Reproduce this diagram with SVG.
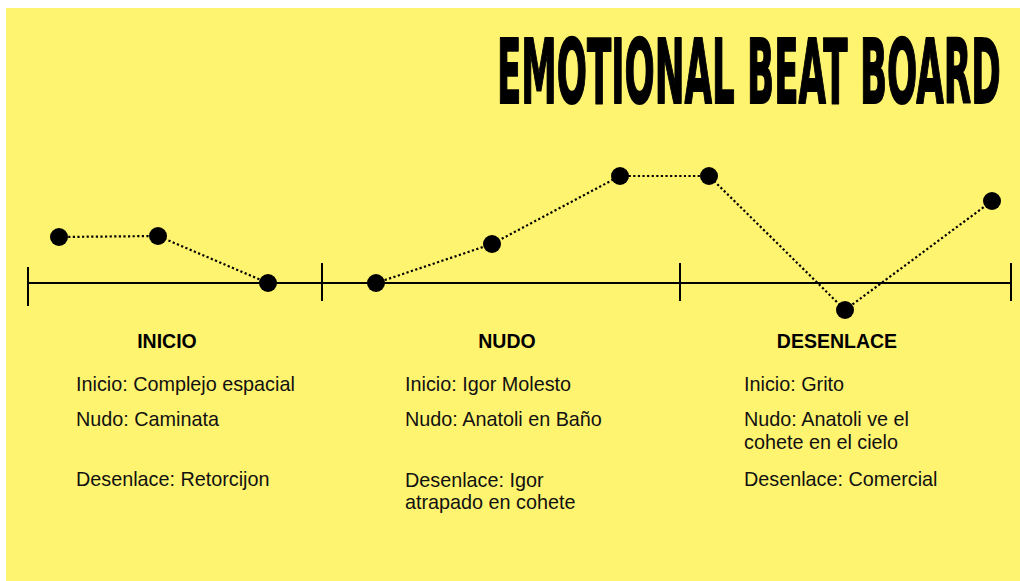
<svg xmlns="http://www.w3.org/2000/svg" width="1020" height="581" viewBox="0 0 1020 581">
<style>
.bg{fill:#FFF470}
.title{font-family:"DejaVu Sans","Liberation Sans",sans-serif;font-weight:bold;font-size:89px;fill:#000;stroke:#000;stroke-width:2px;stroke-linejoin:round}
.head{font-family:"Liberation Sans",Arial,sans-serif;font-weight:bold;font-size:19.5px;fill:#000;text-anchor:middle}
.body{font-family:"Liberation Sans",Arial,sans-serif;font-size:19.8px;fill:#111}
.axis{stroke:#000;stroke-width:2;fill:none}
.beat{stroke:#000;stroke-width:2.2;stroke-dasharray:2.2 2.4;fill:none}
.dot{fill:#000}
</style>
<rect class="bg" x="6" y="8" width="1014" height="573"/>
<g id="title">
<text class="title" transform="translate(497,103) scale(0.397,1)" x="0" y="0" textLength="1269" lengthAdjust="spacingAndGlyphs">EMOTIONAL BEAT BOARD</text>
</g>
<g id="axis">
<line class="axis" x1="28" y1="283" x2="1011" y2="283"/>
<line class="axis" x1="28" y1="267" x2="28" y2="306"/>
<line class="axis" x1="322" y1="263" x2="322" y2="301"/>
<line class="axis" x1="680" y1="263" x2="680" y2="301"/>
<line class="axis" x1="1011" y1="263" x2="1011" y2="301"/>
</g>
<g id="connectors">
<polyline class="beat" points="59,237 158,236 268,283 376,283 492,244 620,176 709,176 845,310 992,201"/>
</g>
<g id="beats">
<circle class="dot" id="b1" cx="59" cy="237" r="9"/>
<circle class="dot" id="b2" cx="158" cy="236" r="9"/>
<circle class="dot" id="b3" cx="268" cy="283" r="9"/>
<circle class="dot" id="b4" cx="376" cy="283" r="9"/>
<circle class="dot" id="b5" cx="492" cy="244" r="9"/>
<circle class="dot" id="b6" cx="620" cy="176" r="9"/>
<circle class="dot" id="b7" cx="709" cy="176" r="9"/>
<circle class="dot" id="b8" cx="845" cy="310" r="9"/>
<circle class="dot" id="b9" cx="992" cy="201" r="9"/>
</g>
<g id="inicio">
<text class="head" x="167" y="348">INICIO</text>
<text class="body" x="76" y="391">Inicio: Complejo espacial</text>
<text class="body" x="76" y="426">Nudo: Caminata</text>
<text class="body" x="76" y="486">Desenlace: Retorcijon</text>
</g>
<g id="nudo">
<text class="head" x="507" y="348">NUDO</text>
<text class="body" x="405" y="391">Inicio: Igor Molesto</text>
<text class="body" x="405" y="426">Nudo: Anatoli en Baño</text>
<text class="body" x="405" y="487">Desenlace: Igor</text>
<text class="body" x="405" y="509">atrapado en cohete</text>
</g>
<g id="desenlace">
<text class="head" x="837" y="348">DESENLACE</text>
<text class="body" x="744" y="391">Inicio: Grito</text>
<text class="body" x="744" y="426">Nudo: Anatoli ve el</text>
<text class="body" x="744" y="449">cohete en el cielo</text>
<text class="body" x="744" y="486">Desenlace: Comercial</text>
</g>
</svg>
